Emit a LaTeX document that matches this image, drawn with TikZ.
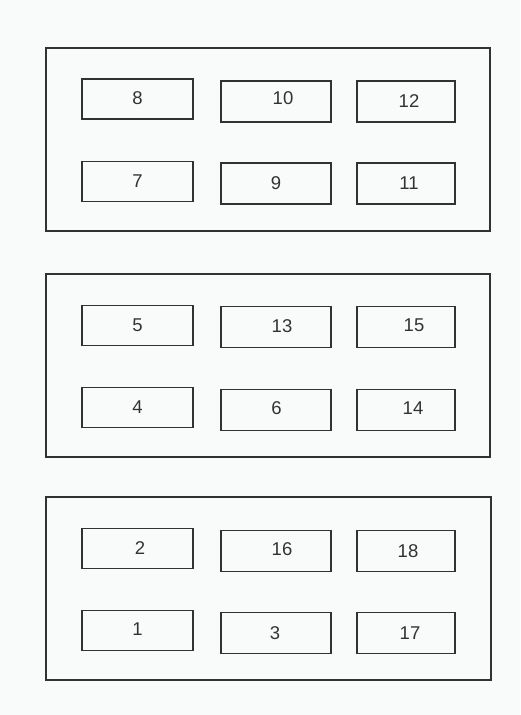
\documentclass[tikz,border=0pt]{standalone}
\usepackage{fontspec}
\setmainfont{Liberation Sans}
\definecolor{bgc}{RGB}{248,251,249}
\definecolor{linec}{RGB}{50,50,50}
\begin{document}
\begin{tikzpicture}[x=1pt,y=-1pt,
  cluster/.style={draw=linec, line width=1.1pt, rectangle, inner sep=0pt, minimum width=444pt, minimum height=183pt},
  box/.style={draw=linec, line width=1.1pt, rectangle, inner sep=0pt, minimum height=40pt},
  c1/.style={box, minimum width=111pt, minimum height=40pt},
  c2/.style={box, minimum width=110pt, minimum height=41pt},
  c3/.style={box, minimum width=98pt, minimum height=41pt},
  num/.style={inner sep=0pt, text=linec, font=\fontsize{18.5}{18.5}\selectfont}]
\fill[bgc] (0,0) rectangle (520,715);
\useasboundingbox (0,0) rectangle (520,715);
% clusters
\node[cluster] (k1) at (268,139.5) {};
\node[cluster] (k2) at (268,365.5) {};
\node[cluster, minimum width=445pt] (k3) at (268.5,588.5) {};
% cluster 1
\node[c1, label={[num, yshift=1.3pt]center:8}] (b8) at (137.5,99) {};
\node[c2, label={[num, xshift=7pt, yshift=3pt]center:10}] (b10) at (276,101.5) {};
\node[c3, label={[num, xshift=3pt, yshift=0.8pt]center:12}] (b12) at (406,101.5) {};
\node[c1, label={[num]center:7}] (b7) at (137.5,181.5) {};
\node[c2, label={[num]center:9}] (b9) at (276,183.5) {};
\node[c3, label={[num, xshift=3pt]center:11}] (b11) at (406,183.5) {};
% cluster 2
\node[c1, label={[num]center:5}] (b5) at (137.5,325.3) {};
\node[c2, label={[num, xshift=6pt, yshift=1.6pt]center:13}] (b13) at (276,327.3) {};
\node[c3, label={[num, xshift=8pt, yshift=1.6pt]center:15}] (b15) at (406,327.3) {};
\node[c1, label={[num]center:4}] (b4) at (137.5,407.5) {};
\node[c2, label={[num, xshift=0.5pt, yshift=1.4pt]center:6}] (b6) at (276,409.7) {};
\node[c3, label={[num, xshift=7pt, yshift=1.4pt]center:14}] (b14) at (406,409.7) {};
% cluster 3
\node[c1, label={[num, xshift=2.5pt]center:2}] (b2) at (137.5,548.5) {};
\node[c2, label={[num, xshift=6pt, yshift=1.7pt]center:16}] (b16) at (276,550.7) {};
\node[c3, label={[num, xshift=2pt]center:18}] (b18) at (406,550.7) {};
\node[c1, label={[num, yshift=1.7pt]center:1}] (b1) at (137.5,630.7) {};
\node[c2, label={[num, xshift=-1pt]center:3}] (b3) at (276,633) {};
\node[c3, label={[num, xshift=4pt]center:17}] (b17) at (406,633) {};
\end{tikzpicture}
\end{document}
